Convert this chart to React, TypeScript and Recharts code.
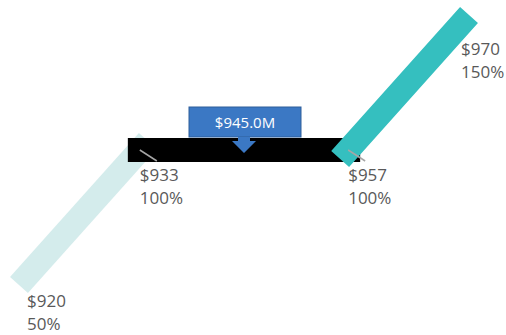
import { ComposedChart, Line, Scatter, XAxis, YAxis } from 'recharts';

// payout curve breakpoints
const revenue = [920, 933, 957, 970];
const payout = [50, 100, 100, 150];
const revenueLabels = ['$920', '$933', '$957', '$970'];
const payoutLabels = ['50%', '100%', '100%', '150%'];
const segmentColors = ['#d4ecec', '#000000', '#35bfbf'];

// actual result marker
const actualRevenue = [945.0];
const actualPayout = [100];
const actualLabels = ['$945.0M'];

const segments = segmentColors.map((color, i) => ({
  color,
  data: [
    { x: revenue[i], y: payout[i] },
    { x: revenue[i + 1], y: payout[i + 1] },
  ],
}));

const points = revenue.map((x, i) => ({
  x,
  y: payout[i],
  rev: revenueLabels[i],
  pct: payoutLabels[i],
  leader: i > 0 && i < revenue.length - 1,
}));

const marker = actualRevenue.map((x, i) => ({
  x,
  y: actualPayout[i],
  label: actualLabels[i],
}));

const FONT = "'Open Sans', 'Noto Sans', sans-serif";

const PointLabel = (props: any) => {
  const { cx, cy, payload } = props;
  const tx = cx;
  return (
    <g>
      {payload.leader && (
        <line x1={cx} y1={cy} x2={cx + 17} y2={cy + 11} stroke='#a6a6a6' strokeWidth={1.5} />
      )}
      <text x={tx} y={cy + 31} fill='#595959' fontSize={17} fontFamily={FONT}>
        <tspan x={tx}>{payload.rev}</tspan>
        <tspan x={tx} dy={23}>
          {payload.pct}
        </tspan>
      </text>
    </g>
  );
};

const Callout = (props: any) => {
  const { cx, cy, payload } = props;
  const top = cy - 43;
  const bottom = cy - 13;
  const arrow = [
    [cx - 6, bottom],
    [cx + 6, bottom],
    [cx + 6, cy - 9],
    [cx + 12, cy - 9],
    [cx, cy + 3],
    [cx - 12, cy - 9],
    [cx - 6, cy - 9],
  ]
    .map((p) => p.join(','))
    .join(' ');
  return (
    <g>
      <rect x={cx - 55} y={top} width={112} height={30} fill='#3b78c4' stroke='#2f5e9a' strokeWidth={1} />
      <polygon points={arrow} fill='#3b78c4' />
      <text x={cx + 1} y={top + 21} textAnchor='middle' fill='#ffffff' fontSize={15} fontFamily={FONT}>
        {payload.label}
      </text>
    </g>
  );
};

export default function App() {
  return (
    <div style={{ position: 'absolute', left: 0, top: 0 }}>
      <ComposedChart width={506} height={335} margin={{ top: 24, right: 45, bottom: 59, left: 27 }}>
        <XAxis dataKey='x' type='number' domain={[920, 970]} hide />
        <YAxis dataKey='y' type='number' domain={[50, 150]} hide />
        {segments.map((s, i) => (
          <Line
            key={i}
            data={s.data}
            dataKey='y'
            stroke={s.color}
            strokeWidth={24}
            strokeLinecap='square'
            dot={false}
            activeDot={false}
            isAnimationActive={false}
          />
        ))}
        <Scatter data={points} dataKey='y' shape={PointLabel} isAnimationActive={false} />
        <Scatter data={marker} dataKey='y' shape={Callout} isAnimationActive={false} />
      </ComposedChart>
    </div>
  );
}
